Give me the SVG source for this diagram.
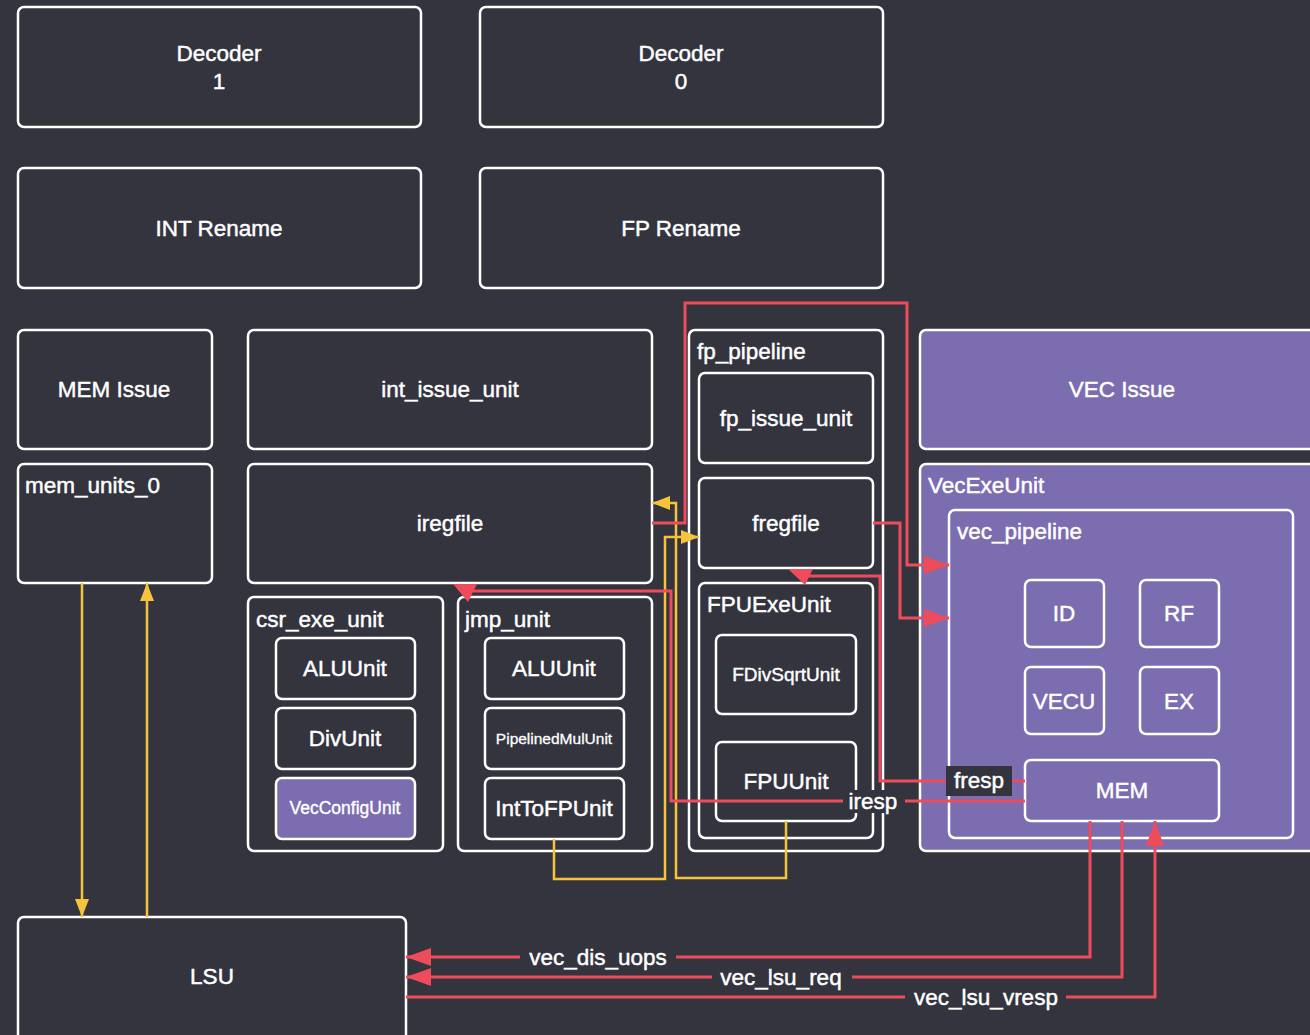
<svg xmlns="http://www.w3.org/2000/svg" width="1310" height="1035" viewBox="0 0 1310 1035">
  <style>
    .box { fill: none; stroke: #ffffff; stroke-width: 2.5; }
    .fill { fill: #7b6db0; stroke: #ffffff; stroke-width: 2.5; }
    .t { font-family: "Liberation Sans", Arial, sans-serif; font-size: 22.5px; fill: #ffffff; stroke: #ffffff; stroke-width: 0.45; text-anchor: middle; dominant-baseline: central; }
    .lbl { font-family: "Liberation Sans", Arial, sans-serif; font-size: 22.5px; fill: #ffffff; stroke: #ffffff; stroke-width: 0.45; text-anchor: start; dominant-baseline: central; }
    .red { fill: none; stroke: #ee4b5b; stroke-width: 3; }
    .yel { fill: none; stroke: #f6c33c; stroke-width: 2.5; }
    .tag { fill: #33343e; }
  </style>
  <defs>
    <marker id="ahRed" markerUnits="userSpaceOnUse" markerWidth="25" markerHeight="18" refX="25" refY="9" orient="auto">
      <path d="M0,0 L25,9 L0,18 z" fill="#ee4b5b"/>
    </marker>
    <marker id="ahYel" markerUnits="userSpaceOnUse" markerWidth="18" markerHeight="14" refX="18" refY="7" orient="auto">
      <path d="M0,0 L18,7 L0,14 z" fill="#f6c33c"/>
    </marker>
  </defs>

  <rect x="0" y="0" width="1310" height="1035" fill="#33343e"/>

  <!-- front end -->
  <g id="decoder1"><rect class="box" x="18" y="7" width="403" height="120" rx="6"/><text class="t" x="219" y="53">Decoder</text><text class="t" x="219" y="81">1</text></g>
  <g id="decoder0"><rect class="box" x="480" y="7" width="403" height="120" rx="6"/><text class="t" x="681" y="53">Decoder</text><text class="t" x="681" y="81">0</text></g>
  <g id="int_rename"><rect class="box" x="18" y="168" width="403" height="120" rx="6"/><text class="t" x="219" y="228">INT Rename</text></g>
  <g id="fp_rename"><rect class="box" x="480" y="168" width="403" height="120" rx="6"/><text class="t" x="681" y="228">FP Rename</text></g>

  <!-- issue -->
  <g id="mem_issue"><rect class="box" x="18" y="330" width="194" height="119" rx="6"/><text class="t" x="114" y="389">MEM Issue</text></g>
  <g id="int_issue_unit"><rect class="box" x="248" y="330" width="404" height="119" rx="6"/><text class="t" x="450" y="389">int_issue_unit</text></g>
  <g id="vec_issue"><rect class="fill" x="920" y="330" width="400" height="119" rx="6"/><text class="t" x="1122" y="389">VEC Issue</text></g>

  <!-- memory -->
  <g id="mem_units_0"><rect class="box" x="18" y="464" width="194" height="119" rx="6"/><text class="lbl" x="25" y="485">mem_units_0</text></g>
  <g id="lsu"><rect class="box" x="18" y="917" width="388" height="130" rx="6"/><text class="t" x="212" y="976">LSU</text></g>

  <!-- integer side -->
  <g id="iregfile"><rect class="box" x="248" y="464" width="404" height="119" rx="6"/><text class="t" x="450" y="523">iregfile</text></g>
  <g id="csr_exe_unit">
    <rect class="box" x="248" y="597" width="195" height="254" rx="6"/>
    <text class="lbl" x="256" y="619">csr_exe_unit</text>
    <g id="csr_alu"><rect class="box" x="276" y="638" width="139" height="61" rx="6"/><text class="t" x="345" y="668">ALUUnit</text></g>
    <g id="csr_div"><rect class="box" x="276" y="708" width="139" height="61" rx="6"/><text class="t" x="345" y="738">DivUnit</text></g>
    <g id="csr_vecconfig"><rect class="fill" x="276" y="778" width="139" height="61" rx="6"/><text class="t" x="345" y="808" style="font-size:17.5px;stroke-width:0.35">VecConfigUnit</text></g>
  </g>
  <g id="jmp_unit">
    <rect class="box" x="458" y="597" width="194" height="254" rx="6"/>
    <text class="lbl" x="465" y="619">jmp_unit</text>
    <g id="jmp_alu"><rect class="box" x="485" y="638" width="139" height="61" rx="6"/><text class="t" x="554" y="668">ALUUnit</text></g>
    <g id="jmp_mul"><rect class="box" x="485" y="708" width="139" height="61" rx="6"/><text class="t" x="554" y="738" style="font-size:15.5px;stroke-width:0.3">PipelinedMulUnit</text></g>
    <g id="jmp_i2f"><rect class="box" x="485" y="778" width="139" height="61" rx="6"/><text class="t" x="554" y="808">IntToFPUnit</text></g>
  </g>

  <!-- floating point pipeline -->
  <g id="fp_pipeline">
    <rect class="box" x="689" y="330" width="194" height="521" rx="6"/>
    <text class="lbl" x="697" y="351">fp_pipeline</text>
    <g id="fp_issue_unit"><rect class="box" x="699" y="373" width="174" height="90" rx="6"/><text class="t" x="786" y="418">fp_issue_unit</text></g>
    <g id="fregfile"><rect class="box" x="699" y="478" width="174" height="90" rx="6"/><text class="t" x="786" y="523">fregfile</text></g>
    <g id="fpu_exe_unit">
      <rect class="box" x="699" y="583" width="174" height="255" rx="6"/>
      <text class="lbl" x="707" y="604">FPUExeUnit</text>
      <g id="fdivsqrt"><rect class="box" x="716" y="635" width="140" height="79" rx="6"/><text class="t" x="786" y="674" style="font-size:19px;stroke-width:0.4">FDivSqrtUnit</text></g>
      <g id="fpuunit"><rect class="box" x="716" y="742" width="140" height="79" rx="6"/><text class="t" x="786" y="781">FPUUnit</text></g>
    </g>
  </g>

  <!-- vector unit -->
  <g id="vec_exe_unit">
    <rect class="fill" x="920" y="464" width="400" height="387" rx="6"/>
    <text class="lbl" x="928" y="485">VecExeUnit</text>
    <g id="vec_pipeline">
      <rect class="box" x="949" y="510" width="344" height="328" rx="6"/>
      <text class="lbl" x="957" y="531">vec_pipeline</text>
      <g id="vec_id"><rect class="box" x="1025" y="580" width="79" height="67" rx="6"/><text class="t" x="1064" y="613">ID</text></g>
      <g id="vec_rf"><rect class="box" x="1140" y="580" width="79" height="67" rx="6"/><text class="t" x="1179" y="613">RF</text></g>
      <g id="vec_vecu"><rect class="box" x="1025" y="667" width="79" height="67" rx="6"/><text class="t" x="1064" y="701">VECU</text></g>
      <g id="vec_ex"><rect class="box" x="1140" y="667" width="79" height="67" rx="6"/><text class="t" x="1179" y="701">EX</text></g>
      <g id="vec_mem"><rect class="box" x="1025" y="760" width="194" height="61" rx="6"/><text class="t" x="1122" y="790">MEM</text></g>
    </g>
  </g>

  <!-- connectors -->
  <g id="connectors">
    <!-- mem_units_0 <-> LSU -->
    <path class="yel" d="M82,583 V917" marker-end="url(#ahYel)"/>
    <path class="yel" d="M147,917 V583" marker-end="url(#ahYel)"/>
    <!-- IntToFPUnit -> fregfile -->
    <path class="yel" d="M554,839 V879 H665 V537 H699" marker-end="url(#ahYel)"/>
    <!-- FPUUnit -> iregfile -->
    <path class="yel" d="M786,821 V878 H676 V503 H652" marker-end="url(#ahYel)"/>

    <!-- register files -> vec_pipeline -->
    <path class="red" d="M652,523 H685 V303 H907 V565 H949" marker-end="url(#ahRed)"/>
    <path class="red" d="M873,523 H900 V618 H949" marker-end="url(#ahRed)"/>

    <!-- MEM responses back to register files -->
    <path class="red" d="M1025,781 H880 V576 H808"/>
    <polygon points="788,569 813,569 805,585" fill="#ee4b5b"/>
    <path class="red" d="M1025,801 H671 V591 H472"/>
    <polygon points="453,584 477,584 468,602" fill="#ee4b5b"/>

    <!-- MEM <-> LSU -->
    <path class="red" d="M1090,821 V957 H406" marker-end="url(#ahRed)"/>
    <path class="red" d="M1122,821 V977 H406" marker-end="url(#ahRed)"/>
    <path class="red" d="M406,997 H1155 V821" marker-end="url(#ahRed)"/>

    <!-- connector labels -->
    <rect class="tag" x="843" y="790" width="62" height="23"/>
    <text class="t" x="873" y="801">iresp</text>
    <rect class="tag" x="946" y="766" width="66" height="30"/>
    <text class="t" x="979" y="780">fresp</text>
    <rect class="tag" x="520" y="946" width="156" height="23"/>
    <text class="t" x="598" y="957">vec_dis_uops</text>
    <rect class="tag" x="712" y="966" width="140" height="23"/>
    <text class="t" x="781" y="977">vec_lsu_req</text>
    <rect class="tag" x="905" y="986" width="161" height="23"/>
    <text class="t" x="986" y="997">vec_lsu_vresp</text>
  </g>
</svg>
